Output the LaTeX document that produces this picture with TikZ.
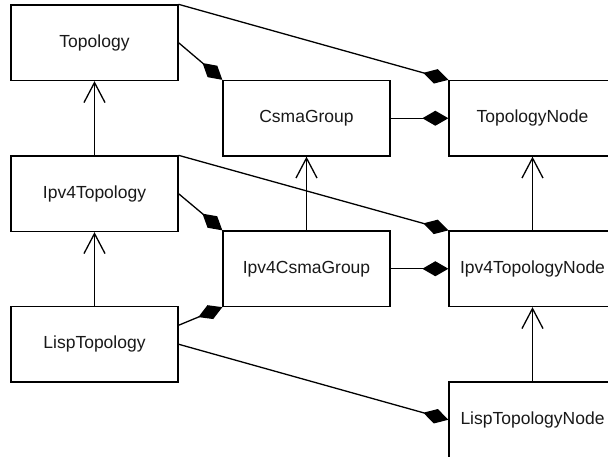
\documentclass[tikz,border=0pt]{standalone}
\usepackage{fontspec}
\setmainfont{Liberation Sans}
\usetikzlibrary{arrows.meta,positioning}
\begin{document}
\begin{tikzpicture}[x=1pt,y=-1pt,
  cls/.style={draw=black,line width=1.3pt,fill=white,minimum width=167pt,minimum height=75.5pt,inner sep=0pt,
    font=\fontsize{17.5}{20}\selectfont,text=black!90},
  comp/.style={line width=1.3pt,-{Diamond[length=26pt,width=15pt]}},
  inh/.style={line width=1.3pt,-{Straight Barb[length=20pt,width=21pt,line width=1.3pt]}}]
\useasboundingbox (0,0) rectangle (608,457);
\clip (0,0) rectangle (608,457);
\node[cls] (Topology) at (94.5,42.75) {Topology};
\node[cls] (CsmaGroup) at (306.5,118.25) {CsmaGroup};
\node[cls] (TopologyNode) at (532.5,118.25) {TopologyNode};
\node[cls] (Ipv4Topology) at (94.5,193.75) {Ipv4Topology};
\node[cls] (Ipv4CsmaGroup) at (306.5,268.75) {Ipv4CsmaGroup};
\node[cls] (Ipv4TopologyNode) at (532.5,268.75) {Ipv4TopologyNode};
\node[cls] (LispTopology) at (94.5,344.25) {LispTopology};
\node[cls] (LispTopologyNode) at (532.5,419.75) {LispTopologyNode};
% inheritance
\draw[inh] (Ipv4Topology.north) -- (Topology.south);
\draw[inh] (LispTopology.north) -- (Ipv4Topology.south);
\draw[inh] (Ipv4CsmaGroup.north) -- (CsmaGroup.south);
\draw[inh] (Ipv4TopologyNode.north) -- (TopologyNode.south);
\draw[inh] (LispTopologyNode.north) -- (Ipv4TopologyNode.south);
% composition
\draw[comp] (Topology.north east) -- (TopologyNode.north west);
\draw[comp] (Topology.east) -- (CsmaGroup.north west);
\draw[comp] (CsmaGroup.east) -- (TopologyNode.west);
\draw[comp] (Ipv4Topology.north east) -- (Ipv4TopologyNode.north west);
\draw[comp] (Ipv4Topology.east) -- (Ipv4CsmaGroup.north west);
\draw[comp] (Ipv4CsmaGroup.east) -- (Ipv4TopologyNode.west);
\draw[comp] ([yshift=19pt]LispTopology.east) -- (Ipv4CsmaGroup.south west);
\draw[comp] (LispTopology.east) -- (LispTopologyNode.west);
\end{tikzpicture}
\end{document}
